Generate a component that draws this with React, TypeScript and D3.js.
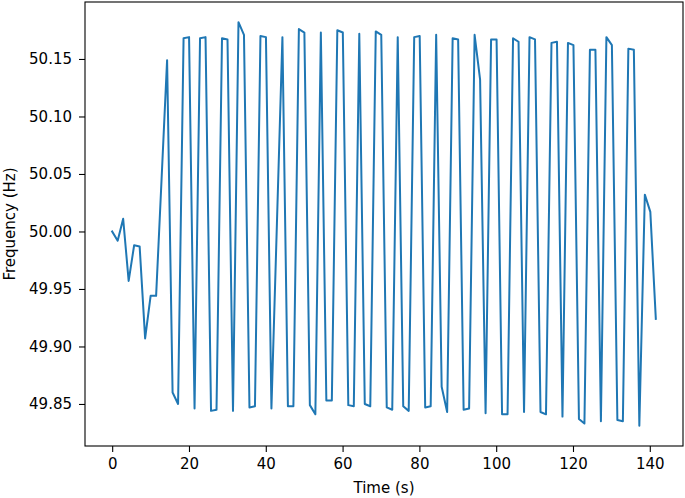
import React, { useRef, useEffect } from "react";
import * as d3 from "d3";

// frequency readings, one every SAMPLE_INTERVAL seconds
const SAMPLE_INTERVAL = 1.43;
const frequency = [
  50.0, 49.992, 50.011, 49.957, 49.988, 49.987, 49.907, 49.944, 49.944, 50.046,
  50.149, 49.86, 49.85, 50.168, 50.169, 49.846, 50.168, 50.169, 49.844, 49.845,
  50.168, 50.167, 49.844, 50.182, 50.171, 49.847, 49.848, 50.17, 50.169, 49.846,
  50.007, 50.169, 49.848, 49.848, 50.176, 50.173, 49.849, 49.841, 50.173, 49.853,
  49.853, 50.175, 50.173, 49.849, 49.848, 50.172, 49.85, 49.848, 50.174, 50.171,
  49.847, 49.845, 50.169, 49.848, 49.844, 50.169, 50.17, 49.847, 49.848, 50.171,
  49.865, 49.843, 50.168, 50.167, 49.845, 49.846, 50.171, 50.132, 49.842, 50.167,
  50.167, 49.841, 49.841, 50.168, 50.165, 49.843, 50.169, 50.167, 49.843, 49.841,
  50.164, 50.165, 49.839, 50.164, 50.162, 49.837, 49.833, 50.158, 50.158, 49.835,
  50.169, 50.162, 49.836, 49.835, 50.159, 50.158, 49.831, 50.032, 50.017, 49.924,
];
const xTicks = [0, 20, 40, 60, 80, 100, 120, 140];
const yTicks = [49.85, 49.9, 49.95, 50.0, 50.05, 50.1, 50.15];

const FrequencyChart = () => {
  const svgRef = useRef<SVGSVGElement>(null);

  useEffect(() => {
    const svg = d3.select(svgRef.current);
    svg.selectAll("*").remove();

    const width = 685;
    const height = 498;
    const margin = { top: 2, right: 2, bottom: 52, left: 85 };
    const font = "DejaVu Sans, sans-serif";
    const fontSize = 15;

    const data = frequency.map((f, i) => ({ t: i * SAMPLE_INTERVAL, f }));

    // matplotlib-style 5% padding around the data
    const pad = (lo: number, hi: number) => {
      const m = (hi - lo) * 0.05;
      return [lo - m, hi + m];
    };
    const [tMin, tMax] = d3.extent(data, (d) => d.t) as [number, number];
    const [fMin, fMax] = d3.extent(data, (d) => d.f) as [number, number];

    const x = d3
      .scaleLinear()
      .domain(pad(tMin, tMax))
      .range([margin.left, width - margin.right]);

    const y = d3
      .scaleLinear()
      .domain(pad(fMin, fMax))
      .range([height - margin.bottom, margin.top]);

    // x axis
    const xAxis = svg
      .append("g")
      .attr("transform", `translate(0,${height - margin.bottom})`)
      .call(d3.axisBottom(x).tickValues(xTicks).tickSize(6).tickPadding(6).tickFormat(d3.format("d")));
    xAxis.select(".domain").remove();
    xAxis.selectAll("line").attr("stroke", "#000").attr("stroke-width", 1.1);
    xAxis.selectAll("text").attr("font-family", font).attr("font-size", fontSize).attr("fill", "#000");

    // y axis
    const yAxis = svg
      .append("g")
      .attr("transform", `translate(${margin.left},0)`)
      .call(d3.axisLeft(y).tickValues(yTicks).tickSize(6).tickPadding(7).tickFormat(d3.format(".2f")));
    yAxis.select(".domain").remove();
    yAxis.selectAll("line").attr("stroke", "#000").attr("stroke-width", 1.1);
    yAxis.selectAll("text").attr("font-family", font).attr("font-size", fontSize).attr("fill", "#000");

    // the line
    const line = d3
      .line<{ t: number; f: number }>()
      .x((d) => x(d.t))
      .y((d) => y(d.f));

    svg
      .append("path")
      .datum(data)
      .attr("fill", "none")
      .attr("stroke", "#1f77b4")
      .attr("stroke-width", 2)
      .attr("stroke-linejoin", "round")
      .attr("stroke-linecap", "square")
      .attr("d", line);

    // frame
    svg
      .append("rect")
      .attr("x", margin.left)
      .attr("y", margin.top)
      .attr("width", width - margin.left - margin.right)
      .attr("height", height - margin.top - margin.bottom)
      .attr("fill", "none")
      .attr("stroke", "#000")
      .attr("stroke-width", 1.1);

    // axis labels
    svg
      .append("text")
      .attr("x", (margin.left + width - margin.right) / 2)
      .attr("y", height - 5)
      .attr("text-anchor", "middle")
      .attr("font-family", font)
      .attr("font-size", fontSize)
      .text("Time (s)");

    svg
      .append("text")
      .attr("transform", `translate(15,${(margin.top + height - margin.bottom) / 2}) rotate(-90)`)
      .attr("text-anchor", "middle")
      .attr("font-family", font)
      .attr("font-size", fontSize)
      .text("Frequency (Hz)");
  }, []);

  return (
    <svg
      ref={svgRef}
      width={685}
      height={498}
      style={{ position: "absolute", left: 0, top: 0, background: "#fff" }}
    ></svg>
  );
};

export default function App() {
  return <FrequencyChart />;
}
